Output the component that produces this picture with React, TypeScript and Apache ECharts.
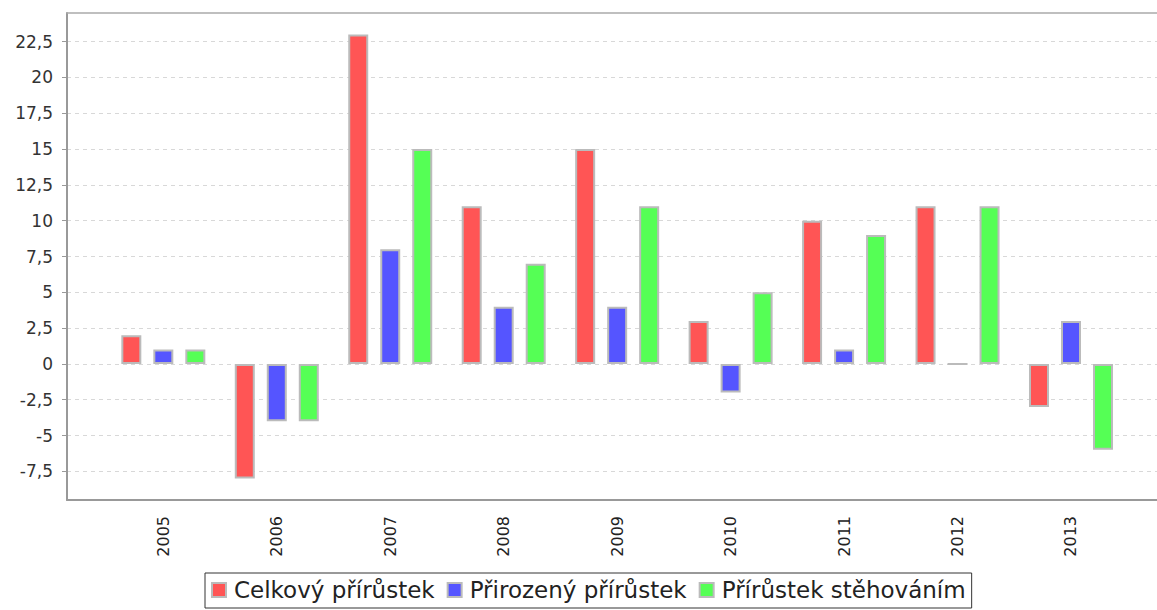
import React, { useEffect, useRef } from "react";
import * as echarts from "echarts";

const years = ["2005", "2006", "2007", "2008", "2009", "2010", "2011", "2012", "2013"];
const celkovy = [2, -8, 23, 11, 15, 3, 10, 11, -3];
const prirozeny = [1, -4, 8, 4, 4, -2, 1, 0, 3];
const stehovanim = [1, -4, 15, 7, 11, 5, 9, 11, -6];
const yTicks = [-7.5, -5, -2.5, 0, 2.5, 5, 7.5, 10, 12.5, 15, 17.5, 20, 22.5];
const seriesNames = ["Celkový přírůstek", "Přirozený přírůstek", "Přírůstek stěhováním"];
const seriesColors = ["#FF5555", "#5555FF", "#55FF55"];

export default function App() {
  const ref = useRef<HTMLDivElement>(null);
  useEffect(() => {
    document.body.style.margin = "0";
    if (!ref.current) return;
    const chart = echarts.init(ref.current, null, { renderer: "svg" });
    const seriesData = [celkovy, prirozeny, stehovanim];
    chart.setOption({
      animation: false,
      backgroundColor: "#ffffff",
      textStyle: { fontFamily: "DejaVu Sans" },
      grid: {
        left: 67,
        top: 13,
        right: 0,
        bottom: 110,
        show: false,
      },
      legend: {
        left: 205,
        top: 573,
        padding: [5, 6, 6, 6],
        itemWidth: 14,
        itemHeight: 14,
        itemGap: 12,
        icon: "rect",
        borderColor: "#333333",
        borderWidth: 1,
        textStyle: {
          fontFamily: "DejaVu Sans",
          fontSize: 23,
          color: "#222222",
          lineHeight: 24,
          padding: [0, 0, 0, 3],
        },
        data: seriesNames,
      },
      xAxis: [
        {
          type: "value",
          min: -0.849,
          max: 8.758,
          axisLine: { onZero: false, lineStyle: { color: "#999999", width: 2 } },
          axisTick: { show: false },
          splitLine: { show: false },
          axisLabel: {
            customValues: years.map((_, i) => i),
            formatter: (v: number) => years[Math.round(v)] ?? "",
            rotate: 90,
            margin: 16,
            fontSize: 16,
            color: "#222222",
            fontFamily: "DejaVu Sans",
          },
        },
        {
          type: "value",
          position: "top",
          min: -0.849,
          max: 8.758,
          axisLine: { show: true, onZero: false, lineStyle: { color: "#aaaaaa", width: 1.5 } },
          axisTick: { show: false },
          axisLabel: { show: false },
          splitLine: { show: false },
        },
      ],
      yAxis: {
        type: "value",
        min: -9.5,
        max: 24.5,
        axisLine: { show: true, onZero: false, lineStyle: { color: "#999999", width: 2 } },
        axisTick: {
          show: true,
          customValues: yTicks,
          length: 5,
          lineStyle: { color: "#999999" },
        },
        axisLabel: {
          customValues: yTicks,
          formatter: (v: number) => String(v).replace(".", ","),
          margin: 14,
          fontSize: 17,
          color: "#333333",
          fontFamily: "DejaVu Sans",
        },
        splitLine: {
          show: true,
          lineStyle: { color: "#d8d8d8", type: [4, 4], width: 1 },
        },
      },
      series: seriesNames.map((name, s) => ({
        name,
        type: "bar",
        xAxisIndex: 0,
        barWidth: 20,
        barGap: "60%",
        itemStyle: {
          color: seriesColors[s],
          borderColor: "#bbbbbb",
          borderWidth: 2,
        },
        data: seriesData[s].map((v, i) => [i, v]),
      })),
    });
    return () => chart.dispose();
  }, []);
  return <div ref={ref} style={{ width: 1157, height: 610 }} />;
}
